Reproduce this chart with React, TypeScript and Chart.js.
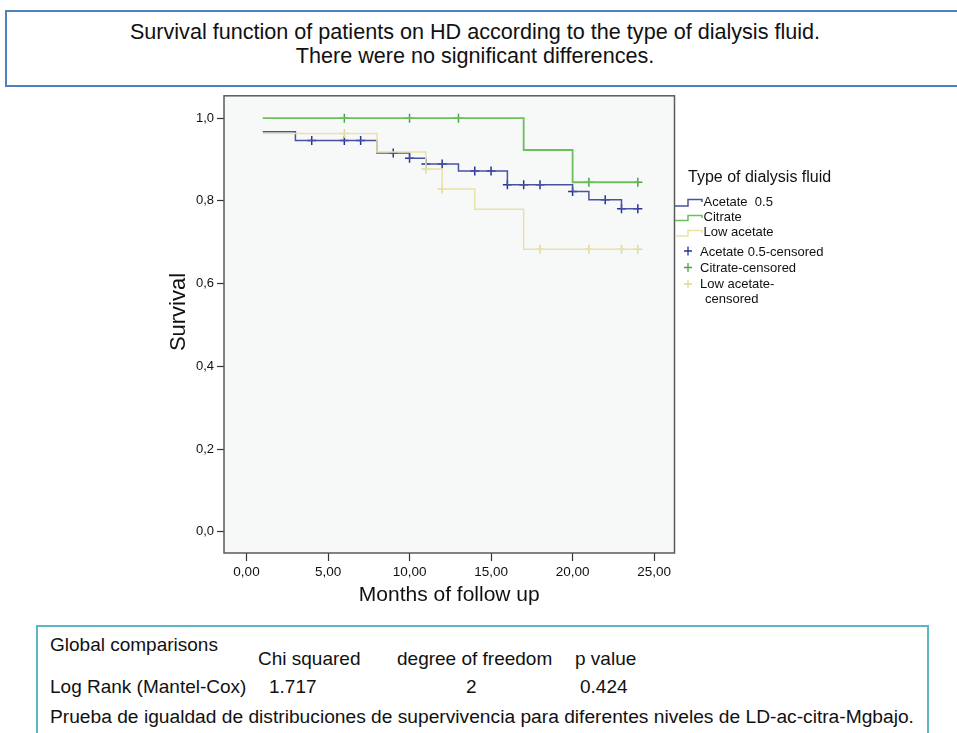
import React, { useEffect, useRef } from 'react';
import { Chart, registerables } from 'chart.js';

Chart.register(...registerables);

const FONT = '"Liberation Sans", Arial, Helvetica, sans-serif';

// ---- data ----
const acetateTimes = [1, 3, 8, 10, 11, 13, 16, 20, 21, 23, 24];
const acetateSurv = [0.967, 0.946, 0.916, 0.903, 0.889, 0.872, 0.839, 0.823, 0.803, 0.781, 0.781];
const acetateCensored = [4, 6, 7, 9, 10, 11, 12, 14, 15, 16, 17, 18, 20, 22, 23, 24];

const citrateTimes = [1, 17, 20, 24];
const citrateSurv = [1.0, 0.923, 0.845, 0.845];
const citrateCensored = [6, 10, 13, 21, 24];

const lowTimes = [1, 8, 11, 12, 14, 17, 24];
const lowSurv = [0.963, 0.918, 0.877, 0.829, 0.78, 0.683, 0.683];
const lowCensored = [6, 11, 12, 18, 21, 23, 24];

const xTicks = [0, 5, 10, 15, 20, 25];
const yTicks = [0, 0.2, 0.4, 0.6, 0.8, 1.0];

const legendTitle = 'Type of dialysis fluid';
const seriesNames = ['Acetate  0.5', 'Citrate', 'Low acetate'];
const censoredNames = ['Acetate 0.5-censored', 'Citrate-censored', 'Low acetate-', 'censored'];
const yTitle = 'Survival';

// ---- styles ----
const BLUE_LINE = '#4a52a0';
const BLUE_MARK = '#22359a';
const GREEN_LINE = '#6cbf5c';
const GREEN_MARK = '#4aa540';
const YELLOW_LINE = '#e9e2aa';
const YELLOW_MARK = '#e2d996';

function survAt(times: number[], surv: number[], t: number): number {
  let v = surv[0];
  for (let i = 0; i < times.length; i++) {
    if (times[i] <= t) v = surv[i];
  }
  return v;
}

function pts(times: number[], surv: number[]) {
  return times.map((t, i) => ({ x: t, y: surv[i] }));
}

function cens(cs: number[], times: number[], surv: number[]) {
  return cs.map((t) => ({ x: t, y: survAt(times, surv, t) }));
}

const OX = 150;
const OY = 85;

const frameLegendPlugin = {
  id: 'frameLegend',
  beforeDatasetsDraw(chart: any) {
    const { ctx, chartArea: a } = chart;
    ctx.save();
    ctx.fillStyle = '#f7f8f8';
    ctx.fillRect(a.left, a.top, a.right - a.left, a.bottom - a.top);
    ctx.strokeStyle = '#5a5a5a';
    ctx.lineWidth = 1.5;
    ctx.strokeRect(a.left, a.top, a.right - a.left, a.bottom - a.top);
    ctx.restore();
  },
  afterDraw(chart: any) {
    const { ctx } = chart;
    const X = (x: number) => x - OX;
    const Y = (y: number) => y - OY;
    ctx.save();
    // y axis title
    ctx.save();
    ctx.translate(X(179), Y(312));
    ctx.rotate(-Math.PI / 2);
    ctx.fillStyle = '#111';
    ctx.textAlign = 'center';
    ctx.textBaseline = 'middle';
    ctx.font = `22px ${FONT}`;
    ctx.fillText(yTitle, 0, 0);
    ctx.restore();

    ctx.fillStyle = '#111';
    ctx.textBaseline = 'middle';
    ctx.textAlign = 'left';
    ctx.font = `16px ${FONT}`;
    ctx.fillText(legendTitle, X(688), Y(177.5));

    // step icons
    const icons = [
      { c: BLUE_LINE, lo: 206, hi: 199.5, ty: 202.5 },
      { c: GREEN_LINE, lo: 220.5, hi: 215.5, ty: 217.5 },
      { c: YELLOW_LINE, lo: 236, hi: 230.5, ty: 232 },
    ];
    ctx.font = `13px ${FONT}`;
    icons.forEach((ic, i) => {
      ctx.strokeStyle = ic.c;
      ctx.lineWidth = 1.5;
      ctx.beginPath();
      ctx.moveTo(X(675), Y(ic.lo));
      ctx.lineTo(X(688), Y(ic.lo));
      ctx.lineTo(X(688), Y(ic.hi));
      ctx.lineTo(X(702), Y(ic.hi));
      ctx.lineTo(X(702), Y(ic.hi + 2.5));
      ctx.stroke();
      ctx.fillStyle = '#111';
      ctx.fillText(seriesNames[i], X(703.5), Y(ic.ty));
    });

    const marks = [
      { c: BLUE_MARK, y: 251 },
      { c: GREEN_MARK, y: 267.5 },
      { c: YELLOW_MARK, y: 284 },
    ];
    marks.forEach((m) => {
      ctx.strokeStyle = m.c;
      ctx.lineWidth = 1.3;
      ctx.beginPath();
      ctx.moveTo(X(684), Y(m.y));
      ctx.lineTo(X(692), Y(m.y));
      ctx.moveTo(X(688), Y(m.y - 4.5));
      ctx.lineTo(X(688), Y(m.y + 4.5));
      ctx.stroke();
    });
    ctx.fillStyle = '#111';
    ctx.fillText(censoredNames[0], X(700), Y(252));
    ctx.fillText(censoredNames[1], X(700), Y(268));
    ctx.fillText(censoredNames[2], X(700), Y(284));
    ctx.fillText(censoredNames[3], X(705), Y(299));
    ctx.restore();
  },
};

function KMChart() {
  const ref = useRef<HTMLCanvasElement | null>(null);
  useEffect(() => {
    if (!ref.current) return;
    const lineDs = (label: string, data: any[], color: string, width: number) => ({
      type: 'line' as const,
      label,
      data,
      borderColor: color,
      borderWidth: width,
      stepped: 'before' as const,
      pointRadius: 0,
      fill: false,
      tension: 0,
    });
    const markDs = (label: string, data: any[], color: string) => ({
      type: 'scatter' as const,
      label,
      data,
      pointStyle: 'cross' as const,
      pointRadius: 4.5,
      borderColor: color,
      backgroundColor: color,
      pointBorderWidth: 1.5,
      showLine: false,
    });
    const chart = new Chart(ref.current, {
      type: 'line',
      data: {
        datasets: [
          lineDs('Low acetate', pts(lowTimes, lowSurv), YELLOW_LINE, 1.5),
          lineDs('Acetate 0.5', pts(acetateTimes, acetateSurv), BLUE_LINE, 1.5),
          lineDs('Citrate', pts(citrateTimes, citrateSurv), GREEN_LINE, 1.8),
          markDs('Low acetate-censored', cens(lowCensored, lowTimes, lowSurv), YELLOW_MARK),
          markDs('Acetate 0.5-censored', cens(acetateCensored, acetateTimes, acetateSurv), BLUE_MARK),
          markDs('Citrate-censored', cens(citrateCensored, citrateTimes, citrateSurv), GREEN_MARK),
        ] as any,
      },
      options: {
        responsive: false,
        animation: false,
        devicePixelRatio: 1,
        layout: { padding: { left: 12, top: 8, right: 175.5, bottom: 0 } },
        plugins: { legend: { display: false }, tooltip: { enabled: false }, title: { display: false } },
        scales: {
          x: {
            type: 'linear',
            min: -1.38,
            max: 26.25,
            afterBuildTicks: (s: any) => {
              s.ticks = xTicks.map((v) => ({ value: v }));
            },
            afterFit: (s: any) => {
              s.height = 62;
            },
            ticks: {
              color: '#111',
              font: { family: FONT, size: 13.5 },
              padding: 3,
              maxRotation: 0,
              autoSkip: false,
              callback: (v: any) => Number(v).toFixed(2).replace('.', ','),
            },
            grid: { display: true, drawOnChartArea: false, drawTicks: true, tickLength: 8, tickColor: '#333', tickWidth: 1.2 },
            border: { display: false },
            title: {
              display: true,
              text: 'Months of follow up',
              color: '#111',
              font: { family: FONT, size: 21 },
              padding: { top: 0, bottom: 7 },
            },
          },
          y: {
            type: 'linear',
            min: -0.051,
            max: 1.054,
            afterBuildTicks: (s: any) => {
              s.ticks = yTicks.map((v) => ({ value: v }));
            },
            afterFit: (s: any) => {
              s.width = 62;
            },
            ticks: {
              color: '#111',
              font: { family: FONT, size: 13 },
              padding: 3,
              autoSkip: false,
              callback: (v: any) => Number(v).toFixed(1).replace('.', ','),
            },
            grid: { display: true, drawOnChartArea: false, drawTicks: true, tickLength: 7, tickColor: '#333', tickWidth: 1.2 },
            border: { display: false },
            title: { display: false },
          },
        },
      },
      plugins: [frameLegendPlugin],
    } as any);
    return () => chart.destroy();
  }, []);
  return (
    <canvas
      ref={ref}
      width={700}
      height={530}
      style={{ position: 'absolute', left: OX, top: OY, width: 700, height: 530 }}
    />
  );
}

const txt = (extra: React.CSSProperties): React.CSSProperties => ({
  position: 'absolute',
  whiteSpace: 'nowrap',
  fontFamily: FONT,
  color: '#111',
  lineHeight: '24px',
  ...extra,
});

export default function App() {
  return (
    <div style={{ position: 'fixed', left: 0, top: 0, width: 957, height: 733, overflow: 'hidden', background: '#fff' }}>
      <div
        style={{
          position: 'absolute',
          left: 5,
          top: 10,
          width: 980,
          height: 77,
          border: '2px solid #4f81bd',
          boxSizing: 'border-box',
        }}
      />
      <div style={txt({ left: 0, width: 950, top: 20, fontSize: 21.6, textAlign: 'center' })}>
        Survival function of patients on HD according to the type of dialysis fluid.
      </div>
      <div style={txt({ left: 0, width: 950, top: 44, fontSize: 21.6, textAlign: 'center' })}>
        There were no significant differences.
      </div>

      <KMChart />

      <div
        style={{
          position: 'absolute',
          left: 36,
          top: 625,
          width: 893,
          height: 140,
          border: '2px solid #5db6c3',
          boxSizing: 'border-box',
        }}
      />
      <div style={txt({ left: 50, top: 633, fontSize: 19 })}>Global comparisons</div>
      <div style={txt({ left: 258, top: 647, fontSize: 19 })}>Chi squared</div>
      <div style={txt({ left: 397, top: 647, fontSize: 19 })}>degree of freedom</div>
      <div style={txt({ left: 575, top: 647, fontSize: 19 })}>p value</div>
      <div style={txt({ left: 50, top: 675, fontSize: 19 })}>Log Rank (Mantel-Cox)</div>
      <div style={txt({ left: 269, top: 675, fontSize: 19 })}>1.717</div>
      <div style={txt({ left: 466, top: 675, fontSize: 19 })}>2</div>
      <div style={txt({ left: 580, top: 675, fontSize: 19 })}>0.424</div>
      <div style={txt({ left: 50, top: 705, fontSize: 19.2 })}>
        Prueba de igualdad de distribuciones de supervivencia para diferentes niveles de LD-ac-citra-Mgbajo.
      </div>
    </div>
  );
}
